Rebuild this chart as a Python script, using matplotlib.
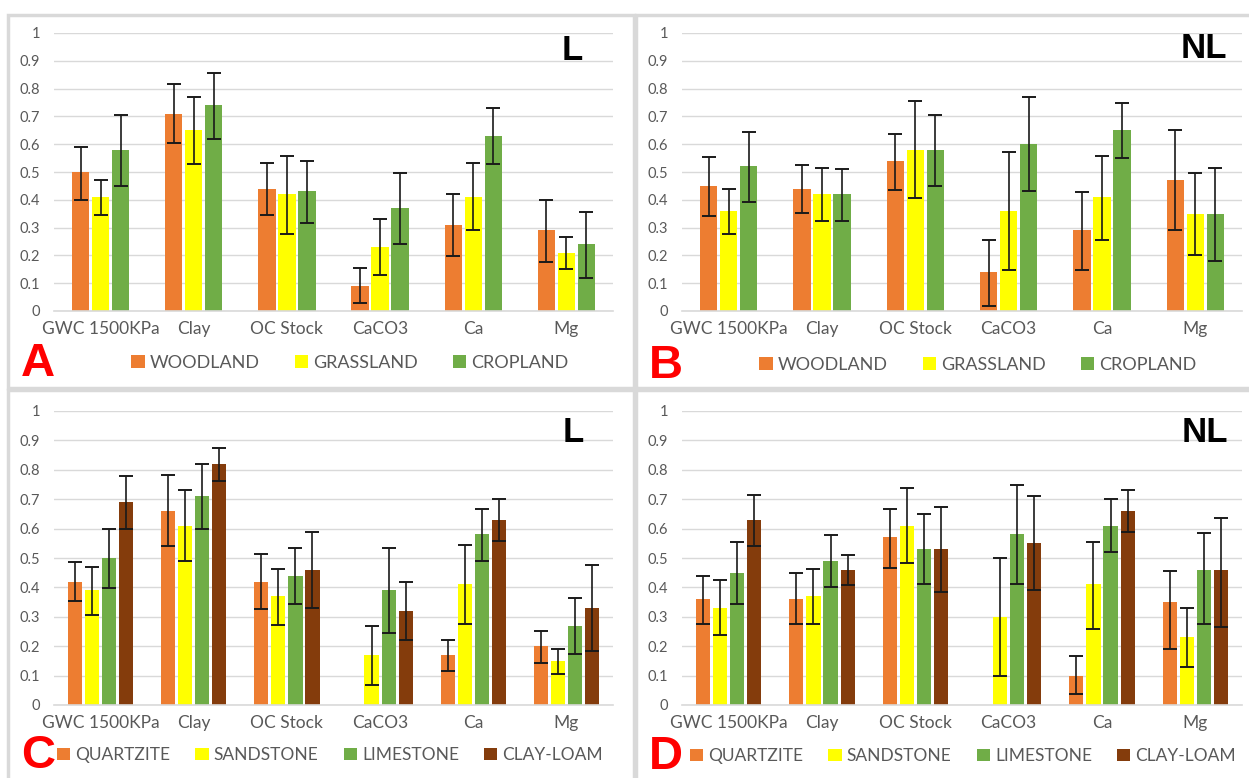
import numpy as np
import matplotlib
matplotlib.use("Agg")
import matplotlib.pyplot as plt
from matplotlib.patches import Rectangle, Patch

nan = np.nan

categories = ["GWC 1500KPa", "Clay", "OC Stock", "CaCO3", "Ca", "Mg"]

# panel A (L) - land use
landuse = ["WOODLAND", "GRASSLAND", "CROPLAND"]
a_vals = [[0.50, 0.71, 0.44, 0.09, 0.31, 0.29],
          [0.41, 0.65, 0.42, 0.23, 0.41, 0.21],
          [0.58, 0.74, 0.43, 0.37, 0.63, 0.24]]
a_lo = [[0.40, 0.605, 0.345, 0.027, 0.198, 0.175],
        [0.345, 0.527, 0.278, 0.128, 0.29, 0.15],
        [0.45, 0.62, 0.315, 0.242, 0.53, 0.12]]
a_hi = [[0.59, 0.815, 0.533, 0.153, 0.42, 0.40],
        [0.47, 0.77, 0.558, 0.33, 0.532, 0.266],
        [0.705, 0.855, 0.538, 0.497, 0.73, 0.357]]

# panel B (NL) - land use
b_vals = [[0.45, 0.44, 0.54, 0.14, 0.29, 0.47],
          [0.36, 0.42, 0.58, 0.36, 0.41, 0.35],
          [0.52, 0.42, 0.58, 0.60, 0.65, 0.35]]
b_lo = [[0.342, 0.352, 0.437, 0.018, 0.148, 0.29],
        [0.277, 0.325, 0.407, 0.147, 0.255, 0.20],
        [0.392, 0.325, 0.45, 0.432, 0.55, 0.18]]
b_hi = [[0.553, 0.525, 0.637, 0.255, 0.428, 0.65],
        [0.44, 0.513, 0.755, 0.573, 0.558, 0.495],
        [0.645, 0.51, 0.705, 0.768, 0.75, 0.516]]

# panel C (L) - parent material
lithology = ["QUARTZITE", "SANDSTONE", "LIMESTONE", "CLAY-LOAM"]
c_vals = [[0.42, 0.66, 0.42, nan, 0.17, 0.20],
          [0.39, 0.61, 0.37, 0.17, 0.41, 0.15],
          [0.50, 0.71, 0.44, 0.39, 0.58, 0.27],
          [0.69, 0.82, 0.46, 0.32, 0.63, 0.33]]
c_lo = [[0.355, 0.54, 0.325, nan, 0.117, 0.142],
        [0.305, 0.49, 0.273, 0.068, 0.277, 0.105],
        [0.398, 0.598, 0.345, 0.245, 0.49, 0.175],
        [0.60, 0.763, 0.33, 0.22, 0.557, 0.182]]
c_hi = [[0.485, 0.782, 0.515, nan, 0.22, 0.253],
        [0.468, 0.73, 0.463, 0.268, 0.543, 0.19],
        [0.598, 0.82, 0.533, 0.533, 0.668, 0.363],
        [0.778, 0.875, 0.587, 0.42, 0.70, 0.477]]

# panel D (NL) - parent material
d_vals = [[0.36, 0.36, 0.57, nan, 0.10, 0.35],
          [0.33, 0.37, 0.61, 0.30, 0.41, 0.23],
          [0.45, 0.49, 0.53, 0.58, 0.61, 0.46],
          [0.63, 0.46, 0.53, 0.55, 0.66, 0.46]]
d_lo = [[0.275, 0.275, 0.467, nan, 0.037, 0.192],
        [0.237, 0.275, 0.482, 0.098, 0.26, 0.13],
        [0.345, 0.40, 0.41, 0.41, 0.52, 0.275],
        [0.542, 0.408, 0.383, 0.392, 0.588, 0.266]]
d_hi = [[0.44, 0.448, 0.668, nan, 0.167, 0.457],
        [0.425, 0.463, 0.738, 0.50, 0.555, 0.329],
        [0.555, 0.578, 0.65, 0.75, 0.70, 0.586],
        [0.713, 0.51, 0.675, 0.71, 0.73, 0.635]]

colors3 = ["#ED7D31", "#FFFF00", "#70AD47"]
colors4 = ["#ED7D31", "#FFFF00", "#70AD47", "#843C0C"]

plt.rcParams["font.family"] = ["Lato", "DejaVu Sans"]

W, H = 1249, 778
fig = plt.figure(figsize=(W / 100, H / 100), dpi=100)


def px_axes(x0, y_top, x1, y_bot):
    return fig.add_axes([x0 / W, 1 - y_bot / H, (x1 - x0) / W, (y_bot - y_top) / H])


def panel(box, ax_px, vals, lo, hi, names, cols, letter, tag, tag_xy, leg_y, leg_x):
    bx0, by0, bx1, by1 = box
    fig.add_artist(Rectangle((bx0 / W, 1 - by1 / H), (bx1 - bx0) / W, (by1 - by0) / H,
                             transform=fig.transFigure, fill=False,
                             edgecolor="#d9d9d9", linewidth=2.5))
    ax = px_axes(*ax_px)
    n = len(vals)
    x = np.arange(len(categories))
    if n == 3:
        step, bw = 0.215, 0.185
    else:
        step, bw = 0.183, 0.152
    for i in range(n):
        v = np.array(vals[i])
        off = (i - (n - 1) / 2) * step
        ax.bar(x + off, v, bw, color=cols[i], zorder=2)
        yerr = [v - np.array(lo[i]), np.array(hi[i]) - v]
        ax.errorbar(x + off, v, yerr=yerr, fmt="none", ecolor="#1a1a1a",
                    elinewidth=1.2, capsize=5, capthick=1.4, zorder=3)
    ax.set_xlim(-0.5, len(categories) - 0.5)
    ax.set_ylim(0, 1)
    ax.set_yticks(np.arange(0, 1.01, 0.1))
    ax.set_yticklabels(["0", "0.1", "0.2", "0.3", "0.4", "0.5", "0.6", "0.7", "0.8", "0.9", "1"])
    ax.set_xticks(x)
    ax.set_xticklabels(categories)
    ax.tick_params(axis="y", length=0, labelsize=10.5, labelcolor="#595959", pad=10)
    ax.tick_params(axis="x", length=0, labelsize=12.5, labelcolor="#595959", pad=7)
    ax.grid(axis="y", color="#d9d9d9", linewidth=1, zorder=0)
    ax.set_axisbelow(True)
    for s in ["top", "right", "left"]:
        ax.spines[s].set_visible(False)
    ax.spines["bottom"].set_color("#d9d9d9")
    ax.spines["bottom"].set_linewidth(1.2)
    fig.text(tag_xy[0] / W, 1 - tag_xy[1] / H, tag, ha="right", va="center",
             fontsize=25, fontweight="bold", family="Liberation Sans", color="black")
    handles = [Patch(facecolor=c) for c in cols]
    if n == 3:
        fs, cs = 13, 1.9
    else:
        fs, cs = 12.5, 1.45
    fig.legend(handles, names, loc="center", bbox_to_anchor=(leg_x / W, 1 - leg_y / H),
               ncol=n, frameon=False, fontsize=fs, labelcolor="#595959",
               handlelength=0.75, handleheight=0.75, handletextpad=0.3,
               columnspacing=cs)
    fig.text((bx0 + 30) / W, 1 - (leg_y + 1) / H, letter, ha="center", va="center",
             fontsize=34, fontweight="bold", family="Liberation Sans", color="#ff0000")
    return ax


panel((8, 15, 634, 388), (54, 33, 613, 311), a_vals, a_lo, a_hi, landuse, colors3,
      "A", "L", (583, 50), 363, 350)
panel((636, 15, 1252, 388), (682, 33, 1242, 311), b_vals, b_lo, b_hi, landuse, colors3,
      "B", "NL", (1227, 48), 365, 978)
panel((8, 390, 634, 781), (54, 411, 613, 705), c_vals, c_lo, c_hi, lithology, colors4,
      "C", "L", (584, 432), 755, 330)
panel((636, 390, 1252, 781), (682, 411, 1242, 705), d_vals, d_lo, d_hi, lithology, colors4,
      "D", "NL", (1228, 432), 756, 963)

fig.savefig("out.png", dpi=100, facecolor="white")
